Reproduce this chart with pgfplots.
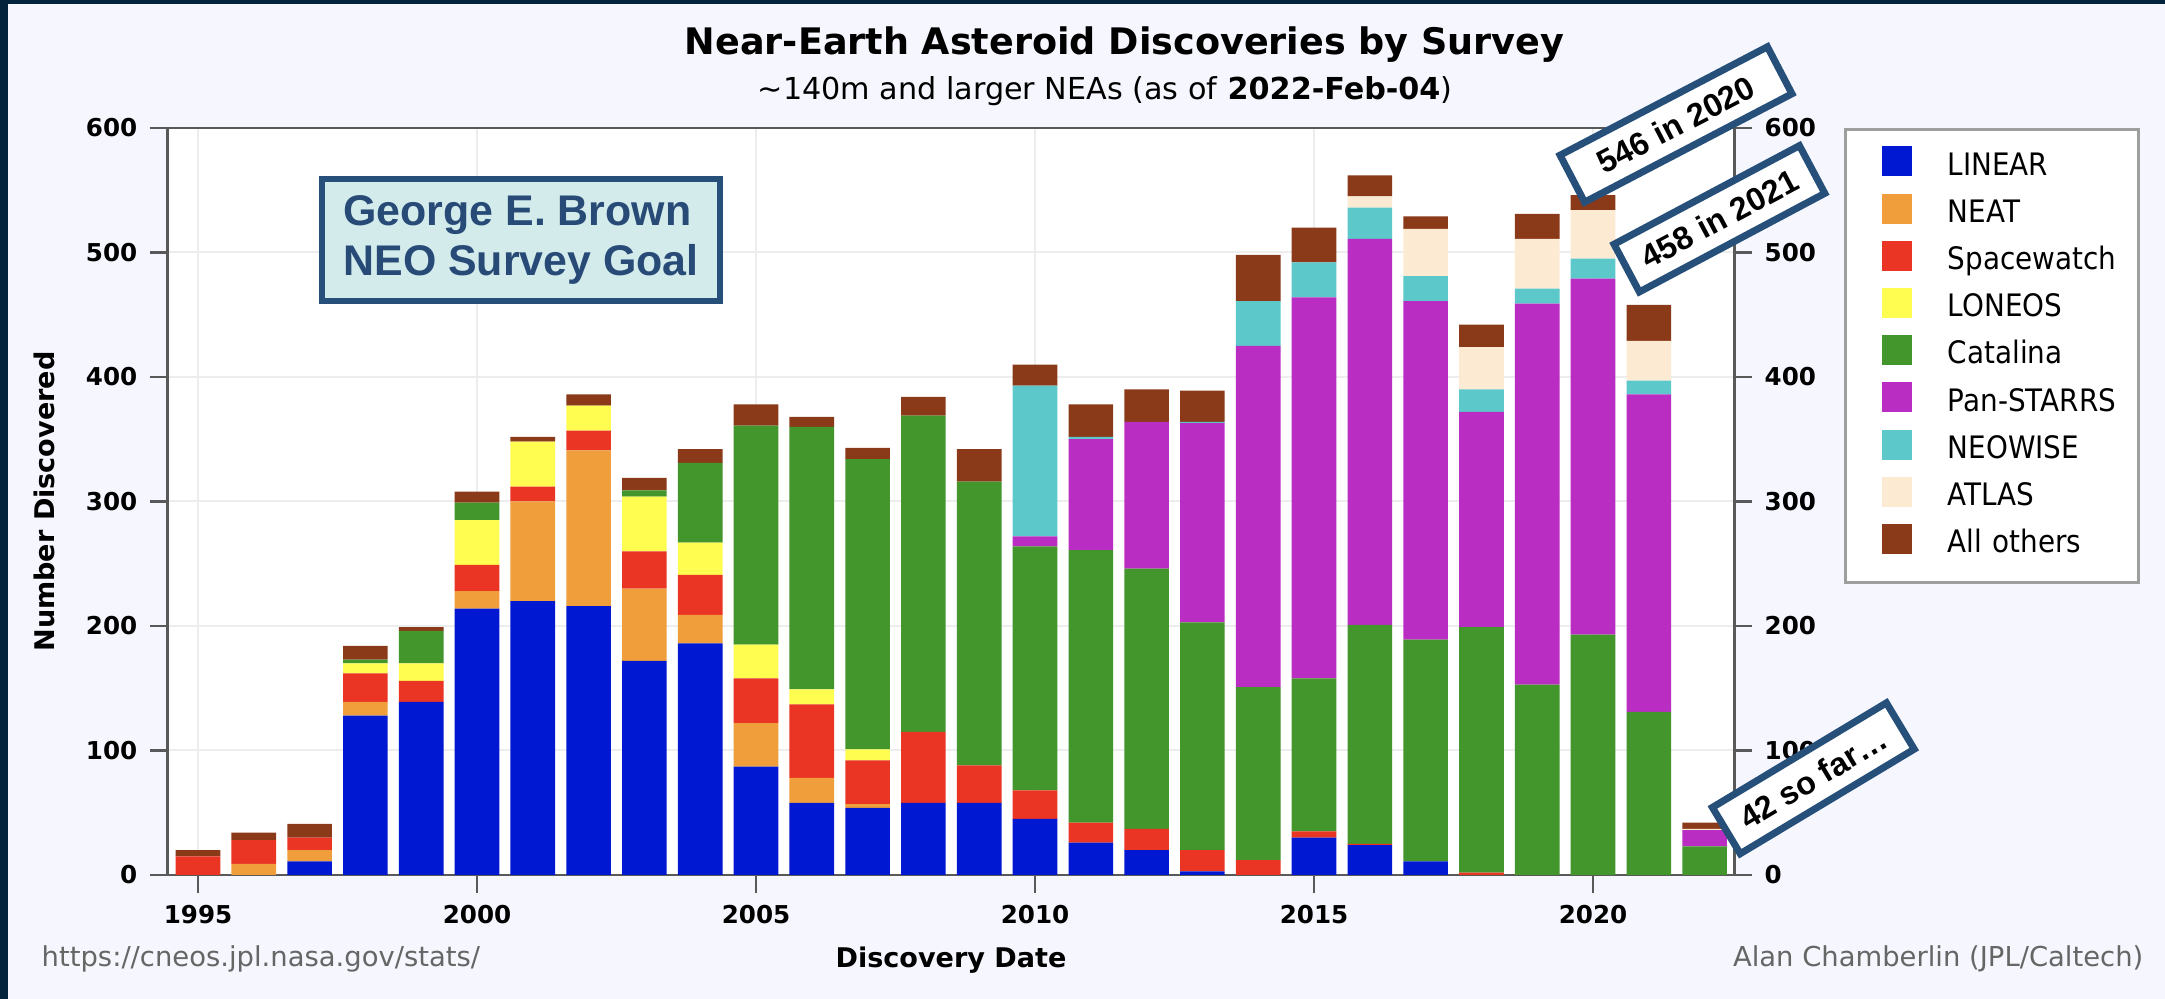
\documentclass[border=0pt]{standalone}
\usepackage{fontspec}
\setmainfont{DejaVu Sans}
\newfontfamily\arialfont{Liberation Sans}
\newfontfamily\legfont[FakeStretch=0.9]{DejaVu Sans}
\usepackage{pgfplots}
\usepackage{pgfplotstable}
\pgfplotsset{compat=1.18}

\definecolor{cLINEAR}{HTML}{0018D2}
\definecolor{cNEAT}{HTML}{F09E3C}
\definecolor{cSpace}{HTML}{EA3424}
\definecolor{cLONEOS}{HTML}{FFFD50}
\definecolor{cCatalina}{HTML}{43962C}
\definecolor{cPan}{HTML}{BA2DC3}
\definecolor{cNEOWISE}{HTML}{5CC8CA}
\definecolor{cATLAS}{HTML}{FCEAD3}
\definecolor{cOther}{HTML}{8B3A19}
\definecolor{bgpage}{HTML}{F6F7FE}
\definecolor{navy}{HTML}{03223C}
\definecolor{boxblue}{HTML}{26507A}
\definecolor{goalfill}{HTML}{D3EBEB}
\definecolor{goaltext}{HTML}{274A77}

% discoveries per year and survey (~140 m and larger NEAs)
\pgfplotstableread{
year linear neat spacewatch loneos catalina panstarrs neowise atlas others
1995   0   0  15  0   0   0   0  0  5
1996   0   9  19  0   0   0   0  0  6
1997  11   9  10  0   0   0   0  0 11
1998 128  11  23  8   3   0   0  0 11
1999 139   0  17 14  26   0   0  0  3
2000 214  14  21 36  14   0   0  0  9
2001 220  80  12 36   0   0   0  0  4
2002 216 125  16 20   0   0   0  0  9
2003 172  58  30 44   5   0   0  0 10
2004 186  23  32 26  64   0   0  0 11
2005  87  35  36 27 176   0   0  0 17
2006  58  20  59 12 211   0   0  0  8
2007  54   3  35  9 233   0   0  0  9
2008  58   0  57  0 254   0   0  0 15
2009  58   0  30  0 228   0   0  0 26
2010  45   0  23  0 196   8 121  0 17
2011  26   0  16  0 219  89   2  0 26
2012  20   0  17  0 209 118   0  0 26
2013   3   0  17  0 183 160   1  0 25
2014   0   0  12  0 139 274  36  0 37
2015  30   0   5  0 123 306  28  0 28
2016  24   0   1  0 176 310  25  9 17
2017  11   0   0  0 178 272  20 38 10
2018   0   0   2  0 197 173  18 34 18
2019   0   0   0  0 153 306  12 40 20
2020   0   0   0  0 193 286  16 39 12
2021   0   0   0  0 131 255  11 32 29
2022   0   0   0  0  23  13   0  1  5
}\neadata

\pgfplotsset{
  neaframe/.style={
    at={(16.77mm,12.4mm)}, anchor=south west,
    scale only axis, width=156.66mm, height=74.7mm,
    xmin=1994.457, xmax=2022.532, ymin=0, ymax=600,
    enlargelimits=false,
    ytick={0,100,...,600},
    tick align=outside, major tick length=1.8mm,
    tick style={draw=black!65, line width=0.25mm},
    axis line style={draw=black!65, line width=0.25mm},
    tick label style={font=\bfseries\fontsize{7}{8}\selectfont},
    /pgf/number format/assume math mode=true,
  },
}

\begin{document}
\begin{tikzpicture}
\fill[bgpage] (0,0) rectangle (216.5mm,99.9mm);
\fill[navy] (0,0) rectangle (0.8mm,99.9mm);
\fill[navy] (0,99.5mm) rectangle (216.5mm,99.9mm);

\begin{axis}[
  neaframe,
  ybar stacked, bar width=0.8,
  every axis plot post/.append style={
    legend image code/.code={
      \path[draw=none,fill=none] (0mm,-0.94mm) rectangle (6.6mm,2.06mm);
      \fill[##1,draw=none] (3.6mm,-0.94mm) rectangle (6.6mm,2.06mm);}},
  axis background/.style={fill=white},
  xtick={1995,2000,...,2020},
  xtick pos=bottom, ytick pos=left,
  x tick label style={/pgf/number format/1000 sep={}},
  grid=major, grid style={draw=black!7, line width=0.2mm},
  xlabel={Discovery Date},
  xlabel style={at={(axis description cs:0.5,-0.1232)}, anchor=base,
    font=\bfseries\fontsize{7.7}{9}\selectfont},
  ylabel={Number Discovered},
  ylabel style={at={(axis description cs:-0.079,0.5)}, anchor=center,
    font=\bfseries\fontsize{7.7}{9}\selectfont},
  legend cell align=left,
  legend style={at={(1.0702,1)}, anchor=north west,
    draw=black!38, line width=0.3mm, fill=white,
    inner xsep=0pt, inner ysep=1.4mm, row sep=0pt, column sep=3.6mm,
    font=\legfont\fontsize{8.8}{10}\selectfont,
    nodes={inner xsep=0pt, inner ysep=0.76mm, outer sep=0pt,
      text height=2.4mm, text depth=0.8mm, text width=19.1mm, align=left}},
]
\addplot[fill=cLINEAR, draw=none] table[x=year, y=linear] {\neadata};
\addlegendentry{LINEAR}
\addplot[fill=cNEAT, draw=none] table[x=year, y=neat] {\neadata};
\addlegendentry{NEAT}
\addplot[fill=cSpace, draw=none] table[x=year, y=spacewatch] {\neadata};
\addlegendentry{Spacewatch}
\addplot[fill=cLONEOS, draw=none] table[x=year, y=loneos] {\neadata};
\addlegendentry{LONEOS}
\addplot[fill=cCatalina, draw=none] table[x=year, y=catalina] {\neadata};
\addlegendentry{Catalina}
\addplot[fill=cPan, draw=none] table[x=year, y=panstarrs] {\neadata};
\addlegendentry{Pan-STARRS}
\addplot[fill=cNEOWISE, draw=none] table[x=year, y=neowise] {\neadata};
\addlegendentry{NEOWISE}
\addplot[fill=cATLAS, draw=none] table[x=year, y=atlas] {\neadata};
\addlegendentry{ATLAS}
\addplot[fill=cOther, draw=none] table[x=year, y=others] {\neadata};
\addlegendentry{All others}
\end{axis}

% right-hand y axis with its own labels
\begin{axis}[
  neaframe,
  axis y line*=right, axis x line=none,
]
\end{axis}

% titles and credits
\node[font=\bfseries\fontsize{10.4}{12}\selectfont, anchor=base]
  at (112.45mm,94.4mm) {Near-Earth Asteroid Discoveries by Survey};
\node[font=\fontsize{8.6}{10}\selectfont, anchor=base]
  at (110.5mm,89.9mm) {\textasciitilde 140m and larger NEAs (as of \textbf{2022-Feb-04})};
\node[font=\fontsize{7.8}{9}\selectfont, text=black!60, anchor=base west, inner sep=0pt]
  at (4.1mm,3.2mm) {https://cneos.jpl.nasa.gov/stats/};
\node[font=\fontsize{7.8}{9}\selectfont, text=black!60, anchor=base east, inner sep=0pt]
  at (214.4mm,3.2mm) {Alan Chamberlin (JPL/Caltech)};

% annotations
\node[draw=boxblue, line width=0.6mm, fill=goalfill, text=goaltext,
  minimum width=39.8mm, minimum height=12.2mm, align=left,
  font=\arialfont\bfseries\fontsize{12.2}{14.2}\selectfont]
  at (52.1mm,75.9mm) {George E. Brown\\NEO Survey Goal};
\node[draw=boxblue, line width=0.7mm, fill=white, rotate=27.6,
  minimum width=23.4mm, minimum height=5.3mm, inner sep=0pt,
  font=\arialfont\bfseries\fontsize{9.2}{10}\selectfont]
  at (167.6mm,87.45mm) {546 in 2020};
\node[draw=boxblue, line width=0.7mm, fill=white, rotate=28,
  minimum width=21.0mm, minimum height=5.4mm, inner sep=0pt,
  font=\arialfont\bfseries\fontsize{9.2}{10}\selectfont]
  at (171.94mm,78.02mm) {458 in 2021};
\node[draw=boxblue, line width=0.7mm, fill=white, rotate=31,
  minimum width=20.3mm, minimum height=5.4mm, inner sep=0pt,
  font=\arialfont\bfseries\fontsize{9.2}{10}\selectfont]
  at (181.33mm,22.07mm) {42 so far\dots};
\end{tikzpicture}
\end{document}
